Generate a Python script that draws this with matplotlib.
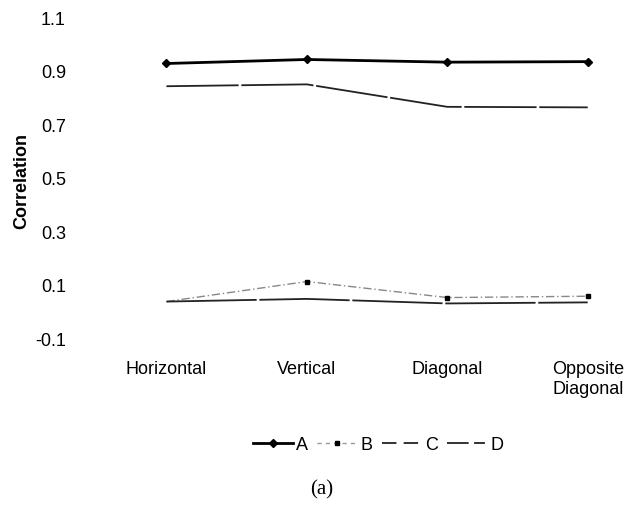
import matplotlib
matplotlib.use('Agg')
from matplotlib import pyplot as plt
from matplotlib.lines import Line2D
import numpy as np

categories = ['Horizontal', 'Vertical', 'Diagonal', 'Opposite\nDiagonal']
a_vals = [0.93, 0.945, 0.935, 0.937]
b_vals = [0.04, 0.115, 0.055, 0.06]
c_vals = [0.845, 0.852, 0.768, 0.766]
d_vals = [0.04, 0.05, 0.033, 0.037]
yticks = [-0.1, 0.1, 0.3, 0.5, 0.7, 0.9, 1.1]

plt.rcParams['font.family'] = ['Liberation Sans', 'DejaVu Sans']

fig = plt.figure(figsize=(6.44, 5.15), dpi=100)
ax = fig.add_axes([0.193, 0.3417, 0.785, 0.6233])

x = np.arange(len(categories))
ax.plot(x, a_vals, '-', color='black', lw=2.0, marker='D', ms=4.5)
ax.plot(x, b_vals, color='#888888', lw=1.0, ls=(0, (6, 2, 1, 2)))
ax.plot(x[1:], b_vals[1:], 's', color='black', ms=3.5)
ax.plot(x, c_vals, color='#222222', lw=1.3, ls=(0, (40, 1.5)))
ax.plot(x, d_vals, color='#222222', lw=1.3, ls=(0, (50, 1.5)))

ax.set_xlim(-0.3, 3.3)
ax.set_ylim(-0.1, 1.1)
ax.set_yticks(yticks)
ax.set_yticklabels(['%.1f' % v for v in yticks])
ax.set_xticks(x)
ax.set_xticklabels(categories)
for s in ax.spines.values():
    s.set_visible(False)
ax.tick_params(axis='y', length=0, pad=42, labelsize=13)
ax.tick_params(axis='x', length=0, pad=16, labelsize=13)

fig.text(22 / 644, 1 - 181 / 515, 'Correlation', rotation=90, fontsize=13,
         fontweight='bold', ha='center', va='center')

# legend keys drawn like the original (short dashes)
handles = [
    Line2D([], [], color='black', lw=2.0, marker='D', ms=4.5),
    Line2D([], [], color='#999999', lw=1.0, ls=(0, (3, 3)), marker='s',
           ms=3.5, mfc='black', mec='black'),
    Line2D([], [], color='#222222', lw=1.3, ls=(0, (8, 4))),
    Line2D([], [], color='#222222', lw=1.3, ls=(0, (12, 3, 6, 3))),
]
fig.legend(handles, ['A', 'B', 'C', 'D'], loc='center',
           bbox_to_anchor=(378 / 644, 1 - 445 / 515), ncol=4,
           frameon=False, fontsize=13, handlelength=2.2, handletextpad=0.2,
           columnspacing=0.5)

fig.text(322 / 644, 1 - 490 / 515, '(a)', fontsize=15, ha='center', va='center',
         family=['Liberation Serif', 'DejaVu Serif'])

fig.savefig('out.png', dpi=100)
